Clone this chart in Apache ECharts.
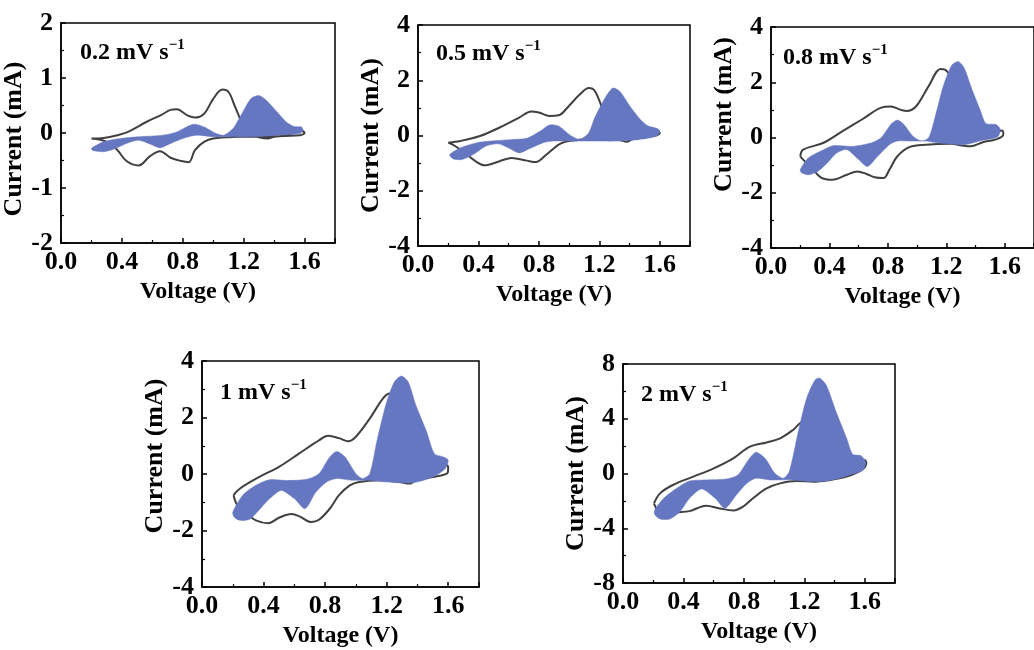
<!DOCTYPE html>
<html>
<head>
<meta charset="utf-8">
<script src="https://cdn.jsdelivr.net/npm/echarts@6/dist/echarts.min.js"></script>
<style>html,body{margin:0;padding:0;background:#fff}#c{width:1034px;height:650px}</style>
</head>
<body>
<div id="c"></div>
<script>
// ---------- DATA (Voltage V, Current mA) ----------
const labels = ['0.2 mV s', '0.5 mV s', '0.8 mV s', '1 mV s', '2 mV s'];
const supText = '\u22121';
const xTicks = [0, 1.8, 0.4];          // min, max, interval
const yRanges = [[-2, 2, 1], [-4, 4, 2], [-4, 4, 2], [-4, 4, 2], [-8, 8, 4]];

// grey CV loop, 0.2 mV/s
const loop1 = [[0.20,-0.10],[0.28,-0.09],[0.37,-0.04],[0.44,0.02],[0.56,0.20],[0.66,0.33],[0.72,0.42],[0.76,0.43],[0.83,0.32],[0.88,0.28],[0.94,0.35],[1.00,0.62],[1.06,0.79],[1.10,0.75],[1.14,0.50],[1.18,0.23],[1.21,-0.01],[1.29,-0.07],[1.36,-0.10],[1.40,-0.07],[1.48,-0.04],[1.58,0.04],[1.60,0.00],[1.57,-0.04],[1.37,-0.06],[1.16,-0.07],[1.00,-0.10],[0.94,-0.16],[0.88,-0.31],[0.84,-0.53],[0.79,-0.51],[0.72,-0.45],[0.65,-0.33],[0.585,-0.42],[0.51,-0.59],[0.43,-0.51],[0.37,-0.31],[0.30,-0.16],[0.20,-0.10]];
// blue capacitive region, 0.2 mV/s (upper edge left→right, lower edge right→left)
const fill1 = [[0.20,-0.28],[0.28,-0.16],[0.39,-0.10],[0.50,-0.07],[0.67,-0.04],[0.76,0.02],[0.87,0.16],[0.94,0.11],[1.02,-0.01],[1.07,-0.04],[1.13,0.08],[1.20,0.41],[1.25,0.63],[1.30,0.68],[1.35,0.59],[1.42,0.38],[1.48,0.20],[1.53,0.12],[1.58,0.11],[1.59,0.05],[1.57,-0.01],[1.42,-0.04],[1.24,-0.07],[1.09,-0.07],[1.00,-0.07],[0.89,-0.04],[0.80,-0.10],[0.72,-0.19],[0.65,-0.27],[0.585,-0.20],[0.51,-0.13],[0.43,-0.19],[0.34,-0.30],[0.28,-0.34],[0.21,-0.32]];

const loop2 = [[0.20,-0.26],[0.28,-0.20],[0.41,-0.02],[0.54,0.29],[0.67,0.65],[0.75,0.87],[0.80,0.83],[0.87,0.71],[0.93,0.73],[1.00,1.08],[1.07,1.48],[1.13,1.72],[1.165,1.65],[1.20,1.26],[1.24,0.65],[1.29,-0.14],[1.38,-0.14],[1.51,0.04],[1.59,0.14],[1.60,0.08],[1.56,-0.02],[1.42,-0.14],[1.38,-0.23],[1.33,-0.16],[1.16,-0.14],[1.03,-0.18],[0.94,-0.30],[0.85,-0.69],[0.78,-0.96],[0.72,-0.91],[0.62,-0.81],[0.54,-0.93],[0.44,-1.08],[0.38,-0.93],[0.31,-0.63],[0.245,-0.38],[0.20,-0.26]];
const fill2 = [[0.21,-0.69],[0.28,-0.45],[0.39,-0.26],[0.48,-0.20],[0.61,-0.15],[0.72,-0.10],[0.81,0.16],[0.87,0.38],[0.93,0.34],[1.00,0.04],[1.07,-0.14],[1.13,0.10],[1.17,0.65],[1.24,1.38],[1.29,1.72],[1.335,1.60],[1.40,1.08],[1.47,0.59],[1.52,0.35],[1.58,0.26],[1.60,0.17],[1.58,-0.02],[1.47,-0.14],[1.33,-0.20],[1.16,-0.20],[1.03,-0.20],[0.89,-0.20],[0.83,-0.26],[0.74,-0.47],[0.67,-0.63],[0.60,-0.45],[0.53,-0.30],[0.45,-0.38],[0.365,-0.69],[0.29,-0.87],[0.23,-0.84]];

const loop3 = [[0.20,-0.68],[0.22,-0.44],[0.36,-0.19],[0.49,0.23],[0.625,0.66],[0.755,1.08],[0.82,1.12],[0.89,1.00],[0.93,0.96],[0.995,1.14],[1.08,1.87],[1.16,2.48],[1.19,2.46],[1.22,2.24],[1.28,0.78],[1.32,0.17],[1.41,0.02],[1.54,0.17],[1.58,0.25],[1.59,0.11],[1.54,-0.07],[1.45,-0.17],[1.365,-0.32],[1.32,-0.30],[1.23,-0.23],[1.06,-0.26],[0.95,-0.34],[0.865,-0.68],[0.81,-1.17],[0.77,-1.47],[0.71,-1.44],[0.65,-1.31],[0.59,-1.23],[0.52,-1.35],[0.42,-1.53],[0.34,-1.44],[0.28,-1.11],[0.22,-0.80],[0.20,-0.68]];
const fill3 = [[0.20,-1.17],[0.255,-0.74],[0.36,-0.44],[0.43,-0.29],[0.56,-0.32],[0.69,-0.19],[0.755,0.0],[0.82,0.47],[0.865,0.63],[0.91,0.47],[0.97,0.05],[1.03,-0.13],[1.08,0.0],[1.125,0.78],[1.18,1.87],[1.235,2.60],[1.28,2.75],[1.32,2.54],[1.375,1.75],[1.43,1.02],[1.47,0.51],[1.54,0.47],[1.57,0.29],[1.55,0.02],[1.45,-0.10],[1.32,-0.26],[1.15,-0.20],[1.06,-0.13],[0.97,-0.13],[0.865,-0.13],[0.81,-0.26],[0.73,-0.68],[0.66,-1.05],[0.60,-0.80],[0.52,-0.44],[0.45,-0.56],[0.385,-0.92],[0.32,-1.23],[0.255,-1.35],[0.21,-1.28]];

const loop4 = [[0.205,-0.75],[0.245,-0.52],[0.37,-0.11],[0.50,0.25],[0.63,0.72],[0.76,1.19],[0.82,1.35],[0.89,1.27],[0.95,1.16],[1.00,1.32],[1.09,1.96],[1.175,2.67],[1.22,2.85],[1.24,2.78],[1.28,1.49],[1.33,0.31],[1.39,-0.11],[1.52,0.07],[1.59,0.31],[1.60,0.19],[1.59,0.01],[1.50,-0.11],[1.39,-0.22],[1.35,-0.34],[1.28,-0.28],[1.15,-0.22],[1.02,-0.28],[0.96,-0.40],[0.89,-0.75],[0.83,-1.23],[0.76,-1.62],[0.71,-1.70],[0.63,-1.49],[0.58,-1.42],[0.50,-1.55],[0.43,-1.74],[0.35,-1.64],[0.29,-1.40],[0.23,-1.11],[0.205,-0.75]];
const fill4 = [[0.20,-1.35],[0.265,-0.75],[0.35,-0.40],[0.44,-0.20],[0.55,-0.23],[0.68,-0.19],[0.76,0.01],[0.83,0.60],[0.875,0.80],[0.93,0.60],[1.00,0.01],[1.045,-0.16],[1.09,0.01],[1.14,1.25],[1.20,2.55],[1.25,3.26],[1.295,3.47],[1.34,3.26],[1.39,2.43],[1.46,1.49],[1.51,0.72],[1.57,0.60],[1.60,0.49],[1.58,0.19],[1.50,-0.11],[1.37,-0.31],[1.20,-0.28],[1.07,-0.22],[0.97,-0.22],[0.875,-0.16],[0.81,-0.28],[0.74,-0.64],[0.67,-1.23],[0.60,-0.87],[0.515,-0.58],[0.44,-0.87],[0.37,-1.28],[0.31,-1.60],[0.245,-1.64],[0.21,-1.53]];

const loop5 = [[0.205,-2.18],[0.245,-1.45],[0.33,-0.84],[0.465,-0.23],[0.60,0.38],[0.73,1.11],[0.84,1.96],[0.95,2.27],[1.04,2.57],[1.125,3.18],[1.19,3.78],[1.25,3.0],[1.30,1.5],[1.35,0.62],[1.43,0.13],[1.545,0.62],[1.60,0.99],[1.61,0.75],[1.58,0.26],[1.48,-0.23],[1.37,-0.47],[1.26,-0.60],[1.15,-0.55],[1.04,-0.72],[0.95,-1.08],[0.86,-1.81],[0.795,-2.42],[0.73,-2.70],[0.64,-2.55],[0.55,-2.35],[0.44,-2.75],[0.355,-2.85],[0.29,-2.95],[0.235,-2.75],[0.205,-2.18]];
const fill5 = [[0.21,-2.66],[0.27,-1.81],[0.355,-1.08],[0.44,-0.55],[0.55,-0.47],[0.685,-0.40],[0.76,-0.11],[0.83,0.99],[0.88,1.55],[0.94,1.11],[1.005,0.01],[1.06,-0.35],[1.10,0.13],[1.16,3.05],[1.215,5.49],[1.27,6.82],[1.30,6.98],[1.345,6.46],[1.41,4.51],[1.48,2.57],[1.52,1.40],[1.575,1.30],[1.605,0.86],[1.59,0.26],[1.50,-0.11],[1.39,-0.47],[1.26,-0.60],[1.125,-0.47],[1.04,-0.47],[0.97,-0.47],[0.88,-0.35],[0.82,-0.72],[0.75,-1.57],[0.675,-2.54],[0.61,-1.81],[0.52,-1.13],[0.44,-1.81],[0.377,-2.79],[0.31,-3.32],[0.245,-3.32],[0.21,-3.00]];

const loops = [loop1, loop2, loop3, loop4, loop5];
const fills = [fill1, fill2, fill3, fill4, fill5];

// ---------- LAYOUT / STYLE ----------
const FONT = '"Liberation Serif", "Times New Roman", serif';
const grids = [
  {left: 61,  top: 23,  width: 274, height: 220},
  {left: 418, top: 25,  width: 272, height: 221},
  {left: 771, top: 27,  width: 276, height: 221},
  {left: 202, top: 361, width: 277, height: 226},
  {left: 623, top: 364, width: 272, height: 219}
];
const yNamePad = [[0,12,0,0],[0,0,0,0],[0,0,0,46],[0,0,0,36],[0,0,0,0]];
const textPos = [[80,38],[436,39],[783,43],[220,378],[641,380]];
const LINE = '#404040', FILL = '#6677c1';

const option = {
  animation: false,
  backgroundColor: '#fff',
  grid: grids.map(g => Object.assign({show: true, borderColor: '#000', borderWidth: 1.5, backgroundColor: 'transparent'}, g)),
  xAxis: grids.map((g, i) => ({
    gridIndex: i, type: 'value', min: xTicks[0], max: xTicks[1], interval: xTicks[2],
    name: 'Voltage (V)', nameLocation: 'middle', nameGap: 37,
    nameTextStyle: {fontFamily: FONT, fontWeight: 'bold', fontSize: 24, color: '#000'},
    axisLine: {show: true, onZero: false, lineStyle: {color: '#000', width: 1.5}},
    axisTick: {show: true, inside: true, length: 5, lineStyle: {color: '#000', width: 1.5}},
    minorTick: {show: true, splitNumber: 2, length: 3, lineStyle: {color: '#000', width: 1.2}},
    splitLine: {show: false},
    axisLabel: {showMaxLabel: false, margin: 6, fontFamily: FONT, fontWeight: 'bold', fontSize: 26, color: '#000',
      formatter: v => v.toFixed(1)}
  })),
  yAxis: grids.map((g, i) => ({
    gridIndex: i, type: 'value', min: yRanges[i][0], max: yRanges[i][1], interval: yRanges[i][2],
    name: 'Current (mA)', nameLocation: 'middle', nameGap: 25,
    nameTextStyle: {fontFamily: FONT, fontWeight: 'bold', fontSize: 26, color: '#000', padding: yNamePad[i]},
    axisLine: {show: true, onZero: false, lineStyle: {color: '#000', width: 1.5}},
    axisTick: {show: true, inside: true, length: 5, lineStyle: {color: '#000', width: 1.5}},
    minorTick: {show: true, splitNumber: 2, length: 3, lineStyle: {color: '#000', width: 1.2}},
    splitLine: {show: false},
    axisLabel: {margin: 8, fontFamily: FONT, fontWeight: 'bold', fontSize: 26, color: '#000'}
  })),
  series: [],
  graphic: textPos.map((p, i) => ({
    type: 'text', left: p[0], top: p[1], z: 100,
    style: {
      text: '{a|' + labels[i] + '}{b|' + supText + '}',
      rich: {
        a: {fontFamily: FONT, fontWeight: 'bold', fontSize: 24, fill: '#000', lineHeight: 28},
        b: {fontFamily: FONT, fontWeight: 'bold', fontSize: 15, fill: '#000', lineHeight: 28, padding: [0, 0, 14, 0]}
      }
    }
  }))
};

loops.forEach((lp, i) => {
  option.series.push({
    type: 'line', xAxisIndex: i, yAxisIndex: i, data: lp, smooth: 0.35, showSymbol: false, symbol: 'none',
    lineStyle: {color: LINE, width: 2}, z: 2
  });
});
fills.forEach((fl, i) => {
  option.series.push({
    type: 'custom', xAxisIndex: i, yAxisIndex: i, data: fl, z: 3, clip: true,
    renderItem: function (params, api) {
      if (params.dataIndex !== 0) return null;
      const pts = fl.map(p => api.coord(p));
      return {type: 'polygon', shape: {points: pts, smooth: 0.25}, style: {fill: FILL, stroke: FILL, lineWidth: 0.5}};
    }
  });
});

const chart = echarts.init(document.getElementById('c'), null, {renderer: 'canvas'});
chart.setOption(option);
</script>
</body>
</html>
